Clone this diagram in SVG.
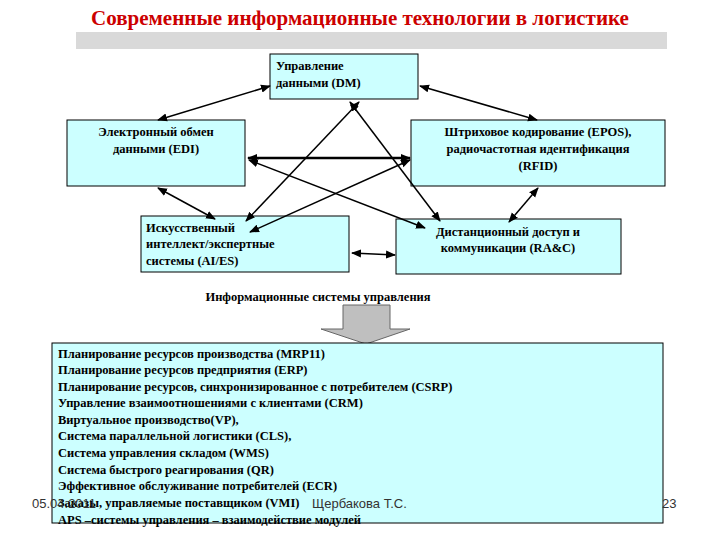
<svg xmlns="http://www.w3.org/2000/svg" width="720" height="540" viewBox="0 0 720 540">
<defs>
<marker id="a" viewBox="0 0 10 10" refX="9" refY="5" markerWidth="10" markerHeight="10" markerUnits="userSpaceOnUse" orient="auto-start-reverse"><path d="M0,1 L10,5 L0,9 z" fill="#000"/></marker>
<style>
.n{fill:#ccffff;stroke:#000;stroke-width:1}
.t{font-family:"Liberation Serif",serif;font-size:12.5px;font-weight:bold;fill:#000}
.c{stroke:#000;stroke-width:1.5;fill:none;marker-start:url(#a);marker-end:url(#a)}
.f{font-family:"Liberation Sans",sans-serif;font-size:13px;fill:#333}
</style>
</defs>
<rect width="720" height="540" fill="#fff"/>
<text x="360" y="25" text-anchor="middle" font-family="Liberation Serif,serif" font-size="21" font-weight="bold" fill="#cc0000">Современные информационные технологии в логистике</text>
<rect x="76" y="32" width="591" height="17" fill="#d9d9d9"/>
<g id="dm"><rect class="n" x="270" y="54" width="148" height="45"/><text class="t" x="276" y="70">Управление</text><text class="t" x="276" y="87">данными (DM)</text></g>
<g id="edi"><rect class="n" x="67" y="120" width="178" height="66"/><text class="t" x="156" y="136" text-anchor="middle">Электронный обмен</text><text class="t" x="156" y="153" text-anchor="middle">данными (EDI)</text></g>
<g id="epos"><rect class="n" x="411" y="120" width="254" height="66"/><text class="t" x="538" y="136" text-anchor="middle">Штриховое кодирование (EPOS),</text><text class="t" x="538" y="153" text-anchor="middle">радиочастотная идентификация</text><text class="t" x="538" y="170" text-anchor="middle">(RFID)</text></g>
<g id="ai"><rect class="n" x="141" y="216" width="208" height="56"/><text class="t" x="146" y="232">Искусственный</text><text class="t" x="146" y="248">интеллект/экспертные</text><text class="t" x="146" y="265">системы (AI/ES)</text></g>
<g id="rac"><rect class="n" x="396" y="219" width="225" height="55"/><text class="t" x="508" y="236" text-anchor="middle">Дистанционный доступ и</text><text class="t" x="508" y="252" text-anchor="middle">коммуникации (RA&amp;C)</text></g>
<g id="connectors">
<line class="c" x1="270" y1="86" x2="158" y2="120"/>
<line class="c" x1="420" y1="86" x2="537" y2="120"/>
<line class="c" x1="248" y1="158" x2="410" y2="158" style="stroke-width:2.5"/>
<line class="c" x1="158" y1="188" x2="215" y2="219"/>
<line class="c" x1="538" y1="188" x2="509" y2="222"/>
<line class="c" x1="352" y1="253" x2="395" y2="255"/>
<line class="c" x1="359" y1="102" x2="246" y2="221"/>
<line class="c" x1="350" y1="102" x2="440" y2="221"/>
<line class="c" x1="249" y1="160" x2="425" y2="228"/>
<line class="c" x1="410" y1="160" x2="250" y2="232"/>
</g>
<g id="ism"><text class="t" x="318" y="301" text-anchor="middle">Информационные системы управления</text>
<path d="M343,305 H390 V329 H410 L366,344 L321,329 H343 Z" fill="#bfbfbf" stroke="#666"/></g>
<g id="list"><rect class="n" x="52" y="343" width="611" height="180"/>
<g class="t">
<text x="58" y="358">Планирование ресурсов производства (MRP11)</text>
<text x="58" y="374">Планирование ресурсов предприятия (ERP)</text>
<text x="58" y="391">Планирование ресурсов, синхронизированное с потребителем (CSRP)</text>
<text x="58" y="407">Управление взаимоотношениями с клиентами (CRM)</text>
<text x="58" y="424">Виртуальное производство(VP),</text>
<text x="58" y="440">Система параллельной логистики (CLS),</text>
<text x="58" y="457">Система управления складом (WMS)</text>
<text x="58" y="474">Система быстрого реагирования (QR)</text>
<text x="58" y="490">Эффективное обслуживание потребителей (ECR)</text>
<text x="58" y="507">Заказы, управляемые поставщиком (VMI)</text>
<text x="58" y="524">APS –системы управления – взаимодействие модулей</text>
</g></g>
<text class="f" x="32" y="508">05.04.2011</text>
<text class="f" x="312" y="508">Щербакова Т.С.</text>
<text class="f" x="662" y="508">23</text>
</svg>
